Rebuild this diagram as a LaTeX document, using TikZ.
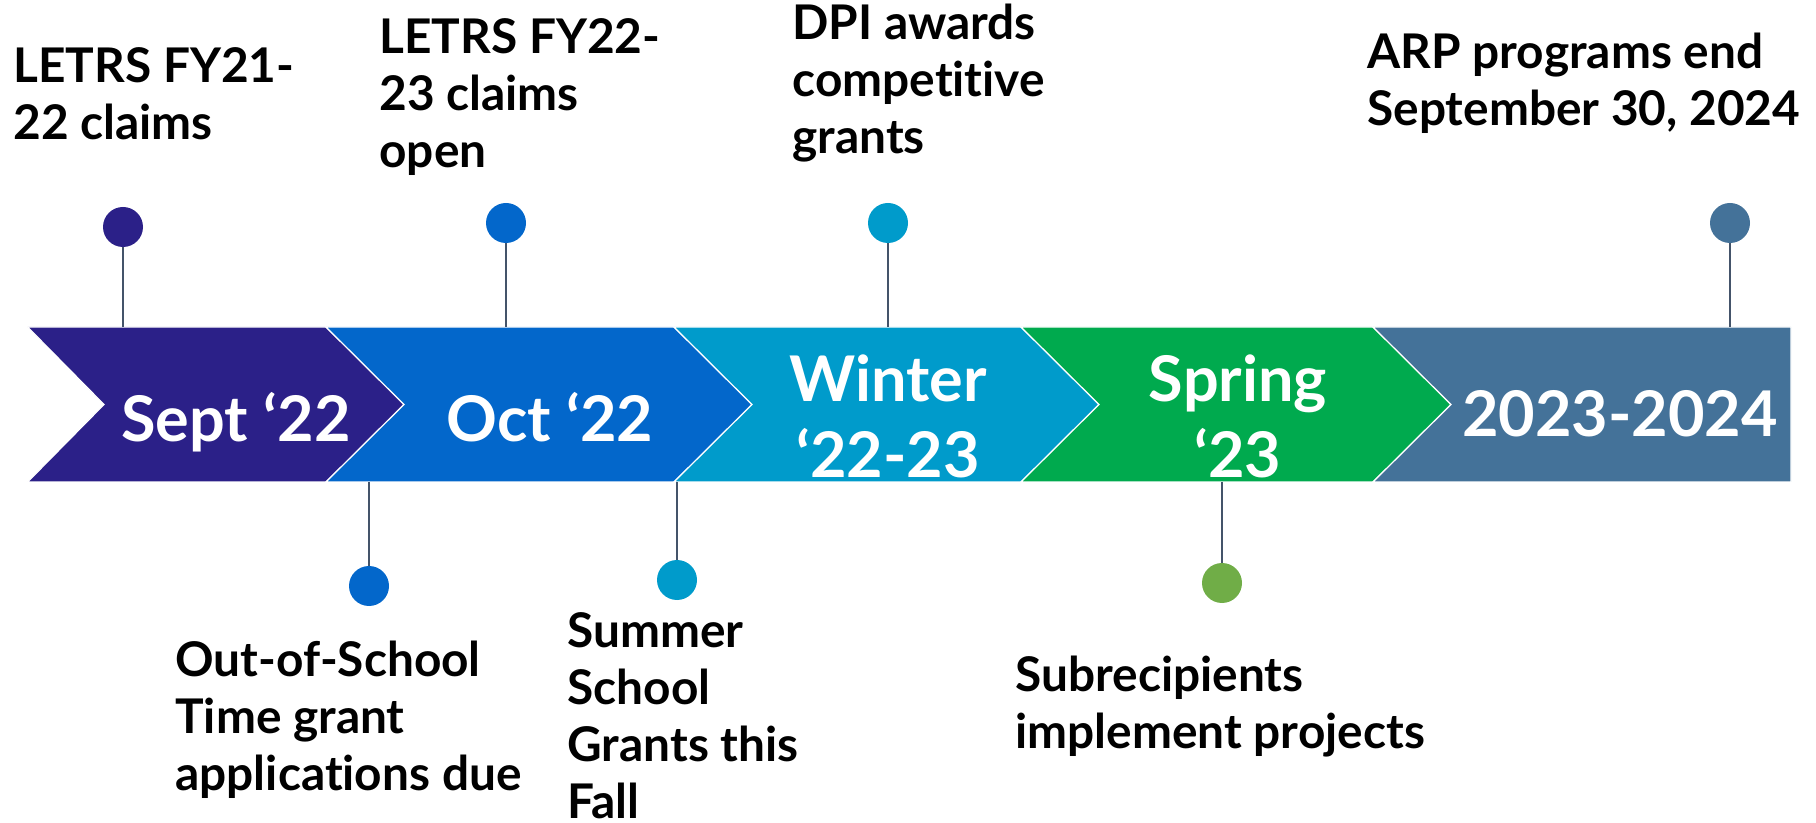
\documentclass[tikz,border=0pt]{standalone}
\usepackage{fontspec}
\setmainfont{Lato}[Ligatures={TeX,NoCommon}]
\usetikzlibrary{positioning}
\definecolor{septcol}{HTML}{2B2088}
\definecolor{octcol}{HTML}{0367CB}
\definecolor{wintercol}{HTML}{009BCB}
\definecolor{springcol}{HTML}{00AA4E}
\definecolor{latecol}{HTML}{447299}
\definecolor{stemcol}{HTML}{44546A}
\definecolor{olivecol}{HTML}{70AD47}
\begin{document}
\begin{tikzpicture}[x=0.5pt, y=-0.5pt]
				\tikzstyle{chevron}=[draw=white, line width=0.6pt]
				\tikzstyle{dotnode}=[circle, minimum size=20pt, inner sep=0pt]
				\tikzstyle{stem}=[draw=stemcol, line width=0.75pt]
				\tikzstyle{labelnode}=[anchor=base west, align=left, inner sep=0pt, text=black, font=\bfseries\fontsize{23.9}{28.5}\selectfont]
				\tikzstyle{bandnode}=[anchor=base, align=center, inner sep=0pt, text=white, font=\bfseries\fontsize{31.5}{38}\selectfont]
				
				\useasboundingbox (0,0) rectangle (1816,823);
				
				\coordinate (btop) at (0,327);
				\coordinate (bbot) at (0,482);
				
				\path [chevron, fill=septcol] (27.6,327) -- (326,327) -- (404,404.5) -- (326,482) -- (27.6,482) -- (104,404.5) -- cycle;
				\path [chevron, fill=octcol] (326,327) -- (674,327) -- (752,404.5) -- (674,482) -- (326,482) -- (404,404.5) -- cycle;
				\path [chevron, fill=wintercol] (674,327) -- (1021,327) -- (1099,404.5) -- (1021,482) -- (674,482) -- (752,404.5) -- cycle;
				\path [chevron, fill=springcol] (1021,327) -- (1373,327) -- (1451,404.5) -- (1373,482) -- (1021,482) -- (1099,404.5) -- cycle;
				\path [chevron, fill=latecol] (1373,327) -- (1791,327) -- (1791,482) -- (1373,482) -- (1451,404.5) -- cycle;
				
				% base anchor sits on the last line
				\node (b1) at (236,442) [bandnode] {Sept ‘22};
				\node (b2) at (550,442) [bandnode] {Oct ‘22};
				\node (b3) at (888,478) [bandnode] {Winter\\‘22-23};
				\node (b4) at (1238,478) [bandnode] {Spring\\‘23};
				\node (b5) at (1620,437) [bandnode] {2023-2024};
				
				\node (d1) at (123,227) [dotnode, fill=septcol] {};
				\node (d2) at (506,223) [dotnode, fill=octcol] {};
				\node (d3) at (888,223) [dotnode, fill=wintercol] {};
				\node (d4) at (1730,223) [dotnode, fill=latecol] {};
				\node (d5) at (369,586) [dotnode, fill=octcol] {};
				\node (d6) at (677,580) [dotnode, fill=wintercol] {};
				\node (d7) at (1222,583) [dotnode, fill=olivecol] {};
				
				\draw [stem] (d1) -- (d1 |- btop);
				\draw [stem] (d2) -- (d2 |- btop);
				\draw [stem] (d3) -- (d3 |- btop);
				\draw [stem] (d4) -- (d4 |- btop);
				\draw [stem] (d5 |- bbot) -- (d5);
				\draw [stem] (d6 |- bbot) -- (d6);
				\draw [stem] (d7 |- bbot) -- (d7);
				
				\node (l1) at (13,140) [labelnode] {LETRS FY21-\\22 claims};
				\node (l2) at (379,168) [labelnode] {LETRS FY22-\\23 claims\\open};
				\node (l3) at (792,154) [labelnode] {DPI awards\\competitive\\grants};
				\node (l4) at (1367,126) [labelnode] {ARP programs end\\September 30, 2024};
				\node (l5) at (175,790) [labelnode] {Out-of-School\\Time grant\\applications due};
				\node (l6) at (567,818) [labelnode] {Summer\\School\\Grants this\\Fall};
				\node (l7) at (1015,748) [labelnode] {Subrecipients\\implement projects};
\end{tikzpicture}
\end{document}
